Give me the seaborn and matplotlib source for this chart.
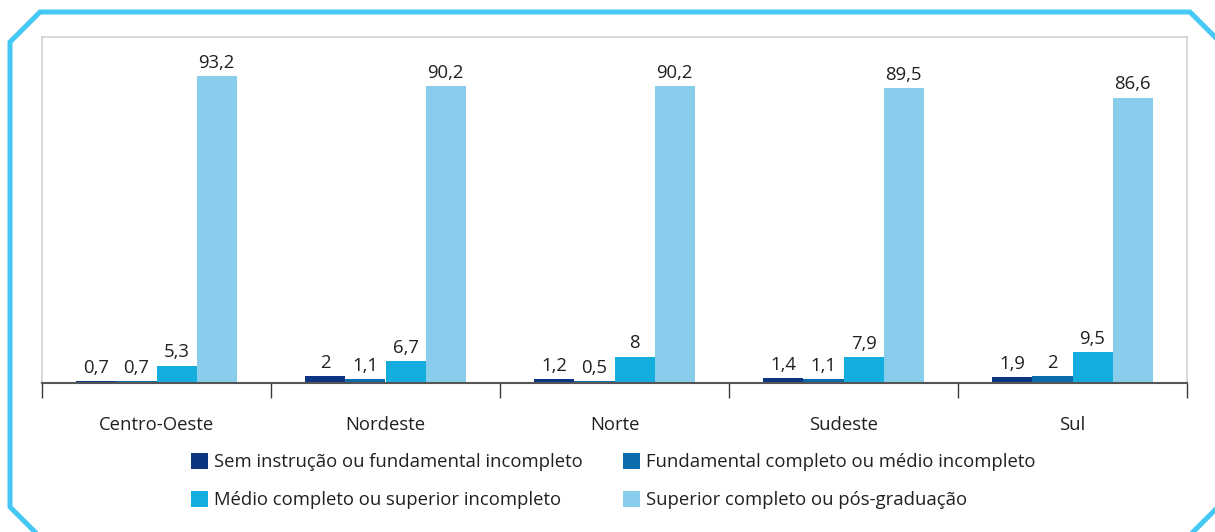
import matplotlib
matplotlib.use("Agg")
import matplotlib.pyplot as plt
from matplotlib.lines import Line2D
from matplotlib.patches import Patch
import seaborn as sns
import pandas as pd

regions = ["Centro-Oeste", "Nordeste", "Norte", "Sudeste", "Sul"]
series_names = [
    "Sem instrução ou fundamental incompleto",
    "Fundamental completo ou médio incompleto",
    "Médio completo ou superior incompleto",
    "Superior completo ou pós-graduação",
]
sem_instrucao = [0.7, 2, 1.2, 1.4, 1.9]
fundamental = [0.7, 1.1, 0.5, 1.1, 2]
medio = [5.3, 6.7, 8, 7.9, 9.5]
superior = [93.2, 90.2, 90.2, 89.5, 86.6]
colors = ["#0B3580", "#0A6BAD", "#13AEDE", "#88CEEC"]

values = [sem_instrucao, fundamental, medio, superior]
rows = []
for name, vals in zip(series_names, values):
    for r, v in zip(regions, vals):
        rows.append({"Região": r, "Série": name, "Valor": v})
df = pd.DataFrame(rows)

sns.set_theme(style="white")
plt.rcParams["font.family"] = ["Open Sans", "DejaVu Sans"]

FS = 13.3
W, H = 1215, 532
fig = plt.figure(figsize=(W / 100, H / 100), dpi=100)
ax = fig.add_axes([42 / W, 1 - 383 / H, (1187 - 42) / W, (383 - 37) / H])

sns.barplot(data=df, x="Região", y="Valor", hue="Série", order=regions,
            hue_order=series_names, palette=colors, width=0.7,
            saturation=1, ax=ax, legend=False, linewidth=0)

ax.set_ylim(0, 105)
ax.set_xlim(-0.5, len(regions) - 0.5)
ax.set_xlabel("")
ax.set_ylabel("")
ax.set_yticks([])

def fmt(v):
    if float(v).is_integer():
        return str(int(v))
    return f"{v:.1f}".replace(".", ",")

for cont in ax.containers:
    ax.bar_label(cont, labels=[fmt(b.get_height()) for b in cont],
                 padding=3, fontsize=FS, color="#231F20")

ax.set_xticks([i - 0.5 for i in range(len(regions) + 1)])
ax.set_xticklabels([])
ax.set_xticks(range(len(regions)), minor=True)
ax.set_xticklabels(regions, minor=True, fontsize=FS, color="#231F20")
ax.tick_params(axis="x", which="major", direction="out", length=10.5,
               width=1, color="#3a3a3a", bottom=True)
ax.tick_params(axis="x", which="minor", length=0, pad=24, bottom=True)

for s in ["left", "right", "top"]:
    ax.spines[s].set_color("#CFCFCF")
    ax.spines[s].set_linewidth(1.2)
ax.spines["bottom"].set_color("#555555")
ax.spines["bottom"].set_linewidth(1.5)

# legend (two single-column legends)
handles = [Patch(facecolor=c, edgecolor="none") for c in colors]
leg_kw = dict(frameon=False, fontsize=FS, handlelength=0.9, handleheight=0.95,
              handletextpad=0.35, labelspacing=1.05, borderpad=0, borderaxespad=0,
              loc="upper left", labelcolor="#231F20")
leg1 = fig.legend([handles[0], handles[2]], [series_names[0], series_names[2]],
                  bbox_to_anchor=(191 / W, 1 - 453 / H), **leg_kw)
leg2 = fig.legend([handles[1], handles[3]], [series_names[1], series_names[3]],
                  bbox_to_anchor=(623 / W, 1 - 453 / H), **leg_kw)

# decorative outer frame
frame_color = "#45C8F4"
def fig_line(pts):
    xs = [p[0] / W for p in pts]
    ys = [1 - p[1] / H for p in pts]
    fig.add_artist(Line2D(xs, ys, color=frame_color, linewidth=3.6,
                          transform=fig.transFigure, solid_joinstyle="miter"))

fig_line([(37, 534), (10, 507), (10, 42), (40, 12), (1190, 12), (1218, 40)])
fig_line([(1218, 507), (1192, 533)])

fig.savefig("out.png", dpi=100)
